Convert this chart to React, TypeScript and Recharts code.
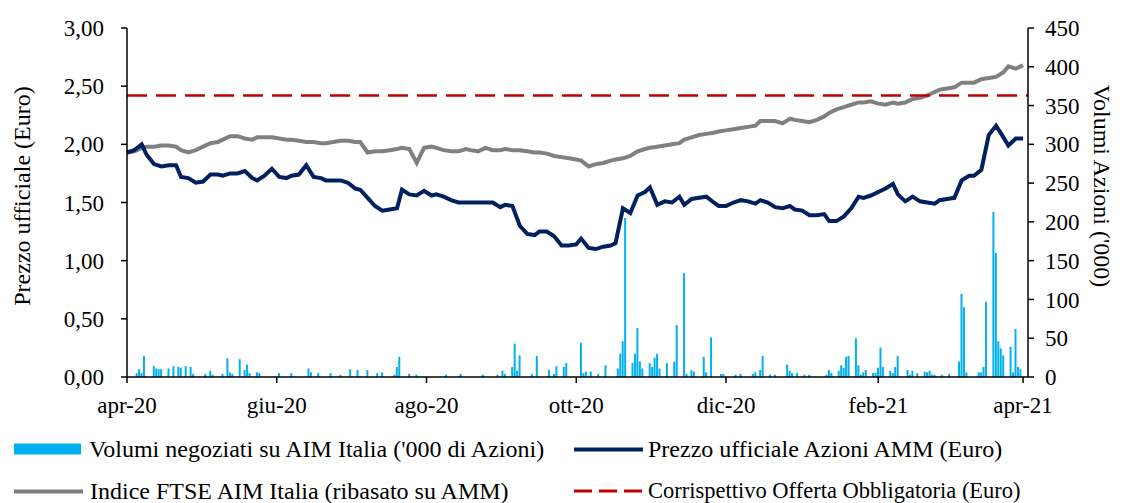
import { ComposedChart, Bar, Line, XAxis, YAxis, ReferenceLine } from "recharts";

// giorni di calendario dal 1 apr 2020
const tickDays = [0, 61, 122, 183, 244, 306, 365];
const tickLabels = ["apr-20", "giu-20", "ago-20", "ott-20", "dic-20", "feb-21", "apr-21"];

const leftTicks = [0, 0.5, 1, 1.5, 2, 2.5, 3];
const rightTicks = [0, 50, 100, 150, 200, 250, 300, 350, 400, 450];

// prezzo ufficiale AMM (Euro)
const prezzo = [
  1.93, 1.95, 2.0, 1.91, 1.83, 1.81, 1.82, 1.82, 1.72, 1.71,
  1.67, 1.68, 1.74, 1.74, 1.73, 1.75, 1.75, 1.77, 1.71, 1.69,
  1.73, 1.79, 1.72, 1.71, 1.73, 1.74, 1.82, 1.72, 1.71, 1.69,
  1.69, 1.69, 1.67, 1.62, 1.61, 1.54, 1.47, 1.43, 1.44, 1.45,
  1.61, 1.57, 1.56, 1.6, 1.56, 1.57, 1.55, 1.52, 1.5, 1.5,
  1.5, 1.5, 1.5, 1.5, 1.46, 1.48, 1.47, 1.3, 1.23, 1.22,
  1.25, 1.25, 1.21, 1.13, 1.13, 1.14, 1.19, 1.11, 1.1, 1.12,
  1.13, 1.15, 1.45, 1.41, 1.56, 1.59, 1.63, 1.48, 1.51, 1.5,
  1.55, 1.48, 1.53, 1.54, 1.55, 1.5, 1.47, 1.47, 1.5, 1.52,
  1.51, 1.49, 1.52, 1.5, 1.46, 1.45, 1.47, 1.44, 1.43, 1.39,
  1.39, 1.4, 1.34, 1.34, 1.38, 1.45, 1.55, 1.54, 1.56, 1.59,
  1.62, 1.66, 1.57, 1.51, 1.55, 1.51, 1.5, 1.49, 1.52, 1.53,
  1.54, 1.69, 1.73, 1.73, 1.78, 2.08, 2.16, 2.06, 1.99, 2.05, 2.05,
];

// indice FTSE AIM Italia ribasato
const ftseAim = [
  1.93, 1.94, 1.97, 1.98, 1.98, 1.99, 1.99, 1.98, 1.95, 1.93,
  1.95, 1.98, 2.01, 2.02, 2.04, 2.07, 2.07, 2.05, 2.04, 2.06,
  2.06, 2.06, 2.05, 2.04, 2.04, 2.03, 2.02, 2.02, 2.01, 2.01,
  2.02, 2.03, 2.03, 2.02, 2.02, 1.93, 1.94, 1.94, 1.95, 1.96,
  1.97, 1.96, 1.84, 1.97, 1.98, 1.97, 1.95, 1.94, 1.94, 1.96,
  1.95, 1.94, 1.97, 1.95, 1.95, 1.96, 1.95, 1.95, 1.94, 1.93,
  1.93, 1.92, 1.9, 1.89, 1.88, 1.87, 1.86, 1.81, 1.83, 1.84,
  1.86, 1.87, 1.88, 1.9, 1.94, 1.96, 1.97, 1.98, 1.99, 2.0,
  2.01, 2.04, 2.06, 2.08, 2.09, 2.1, 2.11, 2.12, 2.13, 2.14,
  2.15, 2.16, 2.2, 2.2, 2.2, 2.18, 2.22, 2.21, 2.2, 2.19,
  2.21, 2.24, 2.27, 2.3, 2.32, 2.34, 2.36, 2.36, 2.37, 2.35,
  2.34, 2.36, 2.35, 2.36, 2.39, 2.4, 2.42, 2.45, 2.47, 2.48,
  2.49, 2.53, 2.53, 2.53, 2.56, 2.57, 2.58, 2.62, 2.67, 2.65, 2.68,
];

// volumi negoziati ('000 azioni): giorno e valore
const volDays = [
  4, 5, 6, 7, 11, 12, 13, 14, 17, 19, 21, 22, 24, 26, 27, 32, 34, 35, 39, 41,
  42, 43, 46, 48, 49, 50, 53, 54, 62, 67, 74, 75, 78, 83, 87, 91, 94, 98, 102, 104,
  109, 110, 111, 115, 118, 130, 136, 145, 151, 153, 154, 157, 158, 159, 160, 165, 167, 172, 174, 175,
  178, 179, 185, 186, 187, 189, 192, 195, 200, 201, 202, 203, 206, 207, 208, 209, 210, 213, 214, 215,
  216, 217, 220, 223, 224, 227, 228, 230, 231, 235, 236, 238, 242, 243, 248, 250, 255, 256, 258, 259,
  262, 264, 269, 270, 271, 273, 276, 278, 285, 286, 287, 290, 291, 292, 293, 294, 297, 298, 299, 300,
  301, 304, 305, 306, 307, 308, 311, 312, 313, 314, 318, 319, 320, 322, 325, 326, 327, 328, 329, 332,
  335, 339, 340, 341, 342, 347, 348, 349, 350, 353, 354, 355, 356, 357, 360, 361, 362, 363, 364,
];
const volumi = [
  5, 10, 5, 27, 14, 11, 10, 10, 11, 14, 13, 12, 14, 13, 4, 4, 8, 3, 4, 24,
  6, 4, 23, 9, 16, 5, 6, 5, 5, 5, 11, 6, 5, 5, 3, 10, 9, 9, 5, 6,
  3, 13, 26, 4, 3, 3, 4, 3, 3, 8, 4, 13, 43, 8, 28, 4, 27, 9, 4, 14,
  13, 18, 44, 5, 7, 7, 4, 15, 11, 30, 46, 205, 18, 30, 63, 20, 11, 18, 13, 25,
  30, 11, 18, 20, 67, 134, 4, 9, 7, 26, 6, 51, 4, 4, 3, 4, 4, 6, 9, 27,
  3, 3, 16, 8, 5, 5, 3, 3, 3, 9, 5, 8, 15, 12, 26, 27, 50, 15, 3, 6,
  9, 5, 5, 12, 38, 13, 8, 5, 13, 27, 9, 3, 8, 5, 7, 6, 8, 3, 3, 3,
  4, 20, 107, 90, 6, 6, 6, 13, 97, 213, 160, 46, 37, 28, 39, 6, 62, 13, 10,
];

const corrispettivo = 2.42;

type Row = { day: number; prezzo?: number; ftse?: number; vol?: number };
const rows: Row[] = [];
for (let d = 0; d <= 365; d++) rows.push({ day: d });
prezzo.forEach((p, i) => {
  const d = Math.round((i * 365) / (prezzo.length - 1));
  rows[d].prezzo = p;
  rows[d].ftse = ftseAim[i];
});
volDays.forEach((d, i) => {
  rows[d].vol = volumi[i];
});

const fmt = (v: number) => v.toFixed(2).replace(".", ",");
const FONT = "'Liberation Serif', 'Times New Roman', serif";
const FS = 23;
const LEG = 24;

export default function App() {
  const tick = { fill: "#000", fontSize: FS, fontFamily: FONT };
  const axisLine = { stroke: "#000", strokeWidth: 1.5 };
  const legRow = (left: number, top: number, size = LEG) => ({
    position: "absolute" as const,
    left,
    top,
    display: "flex",
    alignItems: "center",
    fontSize: size,
    whiteSpace: "nowrap" as const,
    transform: "translateY(-50%)",
  });

  return (
    <div
      style={{
        position: "absolute",
        left: 0,
        top: 0,
        width: 1126,
        height: 503,
        background: "#fff",
        fontFamily: FONT,
        color: "#000",
        overflow: "hidden",
      }}
    >
      <ComposedChart width={1126} height={440} data={rows} margin={{ top: 28, right: 0, bottom: 0, left: 0 }}>
        <XAxis
          dataKey="day"
          type="number"
          domain={[0, 367]}
          ticks={tickDays}
          interval={0}
          tickFormatter={(v: number) => tickLabels[tickDays.indexOf(v)]}
          height={63}
          tickSize={6}
          tickMargin={14}
          tick={tick}
          axisLine={axisLine}
          tickLine={axisLine}
        />
        <YAxis
          yAxisId="left"
          domain={[0, 3]}
          ticks={leftTicks}
          interval={0}
          tickFormatter={fmt}
          width={127}
          tickSize={6}
          tickMargin={17}
          tick={tick}
          axisLine={axisLine}
          tickLine={axisLine}
        />
        <YAxis
          yAxisId="right"
          orientation="right"
          domain={[0, 450]}
          ticks={rightTicks}
          interval={0}
          width={98}
          tickSize={6}
          tickMargin={11}
          tick={tick}
          axisLine={axisLine}
          tickLine={axisLine}
        />
        <Bar yAxisId="right" dataKey="vol" fill="#00B0F0" barSize={2} isAnimationActive={false} />
        <Line
          yAxisId="left"
          dataKey="ftse"
          stroke="#808080"
          strokeWidth={4}
          dot={false}
          connectNulls
          isAnimationActive={false}
        />
        <Line
          yAxisId="left"
          dataKey="prezzo"
          stroke="#002060"
          strokeWidth={4}
          dot={false}
          connectNulls
          isAnimationActive={false}
        />
        <ReferenceLine yAxisId="left" y={corrispettivo} stroke="#C00000" strokeWidth={2.5} strokeDasharray="20 9" />
      </ComposedChart>

      <div
        style={{
          position: "absolute",
          left: 22,
          top: 196,
          transform: "translate(-50%, -50%) rotate(-90deg)",
          whiteSpace: "nowrap",
          fontSize: LEG,
        }}
      >
        Prezzo ufficiale (Euro)
      </div>
      <div
        style={{
          position: "absolute",
          left: 1101,
          top: 186,
          transform: "translate(-50%, -50%) rotate(90deg)",
          whiteSpace: "nowrap",
          fontSize: LEG,
        }}
      >
        Volumi Azioni ('000)
      </div>

      {/* legenda */}
      <div style={legRow(14, 449)}>
        <span style={{ width: 67, height: 11, background: "#00B0F0", marginRight: 8 }} />
        <span>Volumi negoziati su AIM Italia ('000 di Azioni)</span>
      </div>
      <div style={legRow(574, 449)}>
        <span style={{ width: 69, height: 4, background: "#002060", marginRight: 5 }} />
        <span>Prezzo ufficiale Azioni AMM (Euro)</span>
      </div>
      <div style={legRow(14, 491)}>
        <span style={{ width: 69, height: 4, background: "#808080", marginRight: 7 }} />
        <span>Indice FTSE AIM Italia (ribasato su AMM)</span>
      </div>
      <div style={legRow(574, 491, 22.5)}>
        <svg width={69} height={4} style={{ marginRight: 5 }}>
          <line x1={0} y1={2} x2={69} y2={2} stroke="#C00000" strokeWidth={3} strokeDasharray="18 7" />
        </svg>
        <span>Corrispettivo Offerta Obbligatoria (Euro)</span>
      </div>
    </div>
  );
}
